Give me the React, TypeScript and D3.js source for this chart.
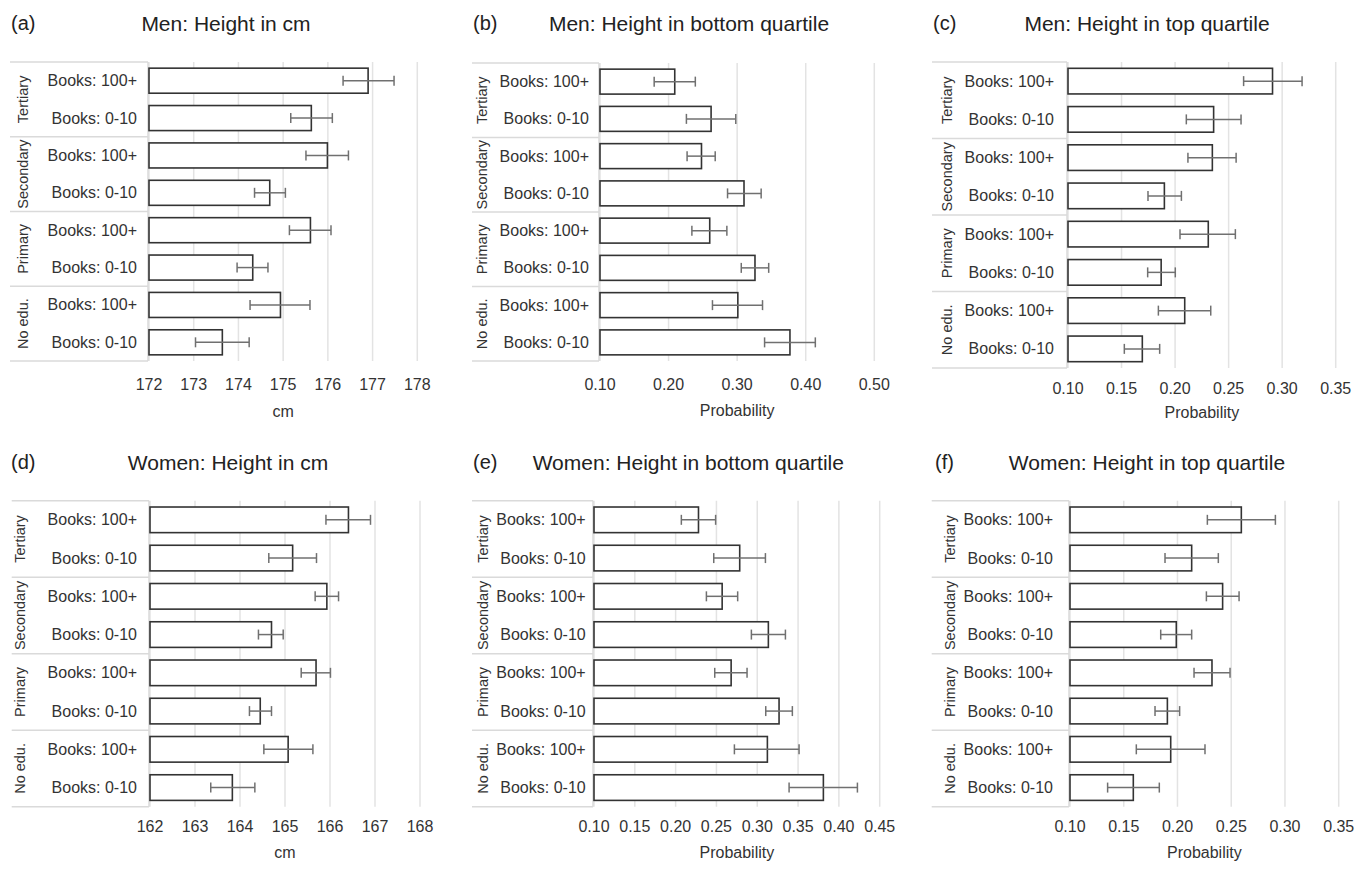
import React from 'react';
import * as d3 from 'd3';

// categories (top to bottom)
const groups = ['Tertiary', 'Secondary', 'Primary', 'No edu.'];
const books = ['Books: 100+', 'Books: 0-10'];

// values, rows: T100, T0, S100, S0, P100, P0, N100, N0
const menCm = [176.9, 175.63, 175.99, 174.7, 175.61, 174.32, 174.94, 173.64];
const menCmLo = [176.34, 175.17, 175.51, 174.36, 175.14, 173.97, 174.26, 173.04];
const menCmHi = [177.48, 176.1, 176.46, 175.05, 176.07, 174.66, 175.6, 174.24];

const menBottom = [0.209, 0.262, 0.248, 0.31, 0.26, 0.326, 0.301, 0.377];
const menBottomLo = [0.179, 0.226, 0.227, 0.286, 0.234, 0.306, 0.264, 0.34];
const menBottomHi = [0.239, 0.298, 0.268, 0.335, 0.285, 0.346, 0.337, 0.414];

const menTop = [0.291, 0.236, 0.2348, 0.19, 0.231, 0.187, 0.209, 0.1694];
const menTopLo = [0.264, 0.2105, 0.212, 0.1747, 0.2046, 0.1744, 0.1844, 0.1526];
const menTopHi = [0.3186, 0.2616, 0.257, 0.2059, 0.2563, 0.2002, 0.2333, 0.1856];

const womenCm = [166.41, 165.17, 165.93, 164.7, 165.69, 164.45, 165.07, 163.83];
const womenCmLo = [165.91, 164.64, 165.67, 164.41, 165.36, 164.21, 164.53, 163.35];
const womenCmHi = [166.9, 165.7, 166.19, 164.96, 166.01, 164.7, 165.62, 164.33];

const womenBottom = [0.228, 0.2785, 0.257, 0.3136, 0.268, 0.3267, 0.3124, 0.381];
const womenBottomLo = [0.207, 0.2467, 0.2377, 0.2928, 0.2479, 0.3104, 0.272, 0.339];
const womenBottomHi = [0.249, 0.31, 0.276, 0.3345, 0.2875, 0.343, 0.3512, 0.4227];

const womenTop = [0.2594, 0.2132, 0.242, 0.1989, 0.2321, 0.1906, 0.1937, 0.1589];
const womenTopLo = [0.2278, 0.1884, 0.2269, 0.1844, 0.2154, 0.1791, 0.1617, 0.135];
const womenTopHi = [0.2911, 0.238, 0.2573, 0.2132, 0.2489, 0.202, 0.2256, 0.1831];

const cmTicksMen = [172, 173, 174, 175, 176, 177, 178];
const cmTicksWomen = [162, 163, 164, 165, 166, 167, 168];
const probTicksB = [0.1, 0.2, 0.3, 0.4, 0.5];
const probTicksC = [0.1, 0.15, 0.2, 0.25, 0.3, 0.35];
const probTicksE = [0.1, 0.15, 0.2, 0.25, 0.3, 0.35, 0.4, 0.45];

const FONT = "'Liberation Sans', Arial, Helvetica, sans-serif";

const rows = groups.flatMap(g => books.map(b => `${g}|${b}`));

const panels = [
  { letter: '(a)', title: 'Men: Height in cm', values: menCm, lo: menCmLo, hi: menCmHi,
    ticks: cmTicksMen, fmt: d3.format('d'), axisTitle: 'cm',
    letterX: 11, titleX: 226, titleY: 23, stripX: 10, groupX: 23, labelRight: 137,
    x0: 149, x1: 417.3, top: 62, bottom: 361, tickY: 384, axisY: 411 },
  { letter: '(b)', title: 'Men: Height in bottom quartile', values: menBottom, lo: menBottomLo, hi: menBottomHi,
    ticks: probTicksB, fmt: d3.format('.2f'), axisTitle: 'Probability',
    letterX: 473, titleX: 689, titleY: 23, stripX: 472, groupX: 482, labelRight: 589,
    x0: 600, x1: 874.3, top: 63, bottom: 361, tickY: 384, axisY: 410 },
  { letter: '(c)', title: 'Men: Height in top quartile', values: menTop, lo: menTopLo, hi: menTopHi,
    ticks: probTicksC, fmt: d3.format('.2f'), axisTitle: 'Probability',
    letterX: 933, titleX: 1147, titleY: 23, stripX: 932, groupX: 947, labelRight: 1054,
    x0: 1068, x1: 1335.7, top: 62, bottom: 368, tickY: 388, axisY: 412 },
  { letter: '(d)', title: 'Women: Height in cm', values: womenCm, lo: womenCmLo, hi: womenCmHi,
    ticks: cmTicksWomen, fmt: d3.format('d'), axisTitle: 'cm',
    letterX: 11, titleX: 228, titleY: 462, stripX: 11.7, groupX: 19.5, labelRight: 137,
    x0: 150, x1: 420, top: 500.7, bottom: 806.7, tickY: 826, axisY: 852 },
  { letter: '(e)', title: 'Women: Height in bottom quartile', values: womenBottom, lo: womenBottomLo, hi: womenBottomHi,
    ticks: probTicksE, fmt: d3.format('.2f'), axisTitle: 'Probability',
    letterX: 473, titleX: 688.3, titleY: 462, stripX: 472, groupX: 483, labelRight: 585.7,
    x0: 594, x1: 879.7, top: 500.7, bottom: 806.7, tickY: 826, axisY: 852 },
  { letter: '(f)', title: 'Women: Height in top quartile', values: womenTop, lo: womenTopLo, hi: womenTopHi,
    ticks: probTicksC, fmt: d3.format('.2f'), axisTitle: 'Probability',
    letterX: 935, titleX: 1147, titleY: 462, stripX: 931.7, groupX: 950, labelRight: 1053,
    x0: 1070, x1: 1338.7, top: 500.7, bottom: 806.7, tickY: 826, axisY: 852 },
];

const Panel = ({ p }) => {
  const ticks = p.ticks;
  const x = d3.scaleLinear()
    .domain([ticks[0], ticks[ticks.length - 1]])
    .range([p.x0, p.x1]);
  const y = d3.scaleBand()
    .domain(rows)
    .range([p.top, p.bottom])
    .paddingInner(0.33)
    .paddingOuter(0.165);
  const g = d3.scaleBand()
    .domain(groups)
    .range([p.top, p.bottom]);
  const bh = y.bandwidth();

  return (
    <g>
      <text x={p.letterX} y={p.titleY} dominantBaseline="central" fontSize={20} fill="#222">{p.letter}</text>
      <text x={p.titleX} y={p.titleY} dominantBaseline="central" textAnchor="middle" fontSize={21} fill="#222">{p.title}</text>

      {/* grid */}
      {ticks.map(t => (
        <line key={t} x1={x(t)} x2={x(t)} y1={p.top} y2={p.bottom} stroke="#e3e3e3" strokeWidth={1.5} />
      ))}

      {/* strip box */}
      {groups.map(grp => (
        <line key={'s' + grp} x1={p.stripX} x2={p.x0 - 1} y1={g(grp)} y2={g(grp)} stroke="#dadada" strokeWidth={1.5} />
      ))}
      <line x1={p.stripX} x2={p.x0 - 1} y1={p.bottom} y2={p.bottom} stroke="#dadada" strokeWidth={1.5} />
      <line x1={p.x0 - 1} x2={p.x0 - 1} y1={p.top} y2={p.bottom} stroke="#dadada" strokeWidth={1.5} />

      {groups.map(grp => {
        const cy = g(grp) + g.bandwidth() / 2;
        return (
          <text key={'g' + grp} transform={`translate(${p.groupX},${cy}) rotate(-90)`}
            textAnchor="middle" dominantBaseline="central" fontSize={14.5} fill="#333">{grp}</text>
        );
      })}

      {rows.map(r => (
        <text key={'l' + r} x={p.labelRight} y={y(r) + bh / 2} textAnchor="end" dominantBaseline="central"
          fontSize={16} fill="#333">{r.split('|')[1]}</text>
      ))}

      {/* bars */}
      {rows.map((r, i) => (
        <rect key={'b' + r} x={p.x0} y={y(r)} width={x(p.values[i]) - p.x0} height={bh}
          fill="#fff" stroke="#333" strokeWidth={1.6} />
      ))}

      {/* error bars */}
      {rows.map((r, i) => {
        const cy = y(r) + bh / 2;
        return (
          <g key={'e' + r} stroke="#707070" strokeWidth={1.5}>
            <line x1={x(p.lo[i])} x2={x(p.hi[i])} y1={cy} y2={cy} />
            <line x1={x(p.lo[i])} x2={x(p.lo[i])} y1={cy - 5} y2={cy + 5} />
            <line x1={x(p.hi[i])} x2={x(p.hi[i])} y1={cy - 5} y2={cy + 5} />
          </g>
        );
      })}

      {/* x axis */}
      {ticks.map(t => (
        <text key={'t' + t} x={x(t)} y={p.tickY} textAnchor="middle" dominantBaseline="central"
          fontSize={16} fill="#333">{p.fmt(t)}</text>
      ))}
      <text x={(p.x0 + p.x1) / 2} y={p.axisY} textAnchor="middle" dominantBaseline="central"
        fontSize={16} fill="#333">{p.axisTitle}</text>
    </g>
  );
};

export default function App() {
  return (
    <svg width={1364} height={869} style={{ position: 'absolute', left: 0, top: 0, background: '#fff' }}
      fontFamily={FONT}>
      <rect width={1364} height={869} fill="#fff" />
      {panels.map(p => <Panel key={p.letter} p={p} />)}
    </svg>
  );
}
